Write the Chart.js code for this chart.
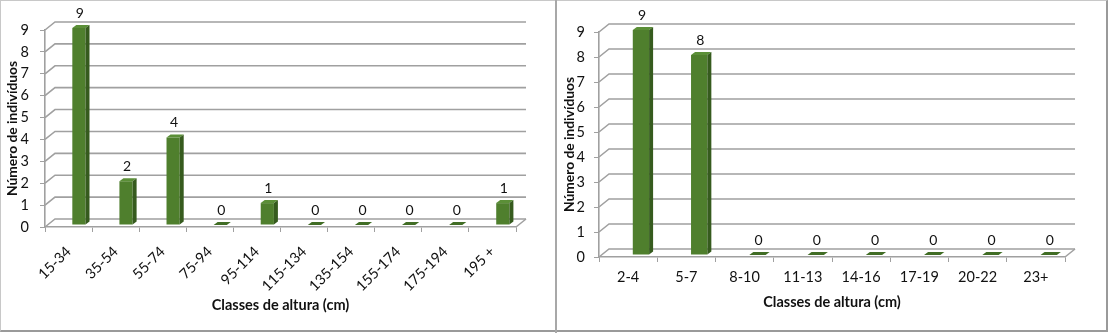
<!DOCTYPE html>
<html>
<head>
<meta charset="utf-8">
<script src="https://cdn.jsdelivr.net/npm/chart.js@4/dist/chart.umd.min.js"></script>
<style>
  body { margin: 0; background: #fff; }
  #wrap { position: relative; width: 1108px; height: 333px; overflow: hidden; }
  canvas { position: absolute; top: 0; }
  #left-chart { left: 0; }
  #right-chart { left: 556px; }
  .frame { position: absolute; left: 0; top: 0; width: 1105px; height: 329px;
           border-left: 1px solid #c8c8c8; border-top: 1px solid #c8c8c8;
           border-right: 2px solid #9a9a9a; border-bottom: 2px solid #9a9a9a; }
  .sep { position: absolute; left: 555px; top: 0; width: 2px; height: 333px; background: #a8a8a8; }
</style>
</head>
<body>
<div id="wrap">
  <canvas id="left-chart" width="556" height="333"></canvas>
  <canvas id="right-chart" width="552" height="333"></canvas>
  <div class="frame"></div>
  <div class="sep"></div>
</div>
<script>
// data
const leftClasses = ['15-34', '35-54', '55-74', '75-94', '95-114', '115-134', '135-154', '155-174', '175-194', '195 +'];
const leftCounts = [9, 2, 4, 0, 1, 0, 0, 0, 0, 1];
const rightClasses = ['2-4', '5-7', '8-10', '11-13', '14-16', '17-19', '20-22', '23+'];
const rightCounts = [9, 8, 0, 0, 0, 0, 0, 0];
const yMax = 9;

const xTitle = 'Classes de altura (cm)';
const yTitle = 'Número de indivíduos';

Chart.defaults.font.family = 'Lato, "Open Sans", sans-serif';
Chart.defaults.color = '#111';

const wallColor = '#a0a0a0';
const frontGreen = '#4f7f2d';
const topGreen = '#5b8f37';
const sideGreen = '#365b1e';

// back wall offset and bar depth
const wall = { dx: 10, dy: 8 };
const depth = { dx: 4, dy: 3 };

function barShift(chart) {
    const x = chart.scales.x;
    const cat = (x.right - x.left) / chart.data.labels.length;
    return { sx: cat * 0.22, sy: -2 };
}

const fake3d = {
    id: 'fake3d',
    beforeDatasetsDraw(chart) {
        const { ctx, chartArea: a, scales: { y } } = chart;
        ctx.save();
        ctx.strokeStyle = wallColor;
        ctx.lineWidth = 1.6;
        y.ticks.forEach(t => {
            const py = y.getPixelForValue(t.value);
            ctx.beginPath();
            ctx.moveTo(a.left, py);
            ctx.lineTo(a.left + wall.dx, py - wall.dy);
            ctx.lineTo(a.right + wall.dx, py - wall.dy);
            ctx.stroke();
        });
        ctx.beginPath();
        ctx.moveTo(a.right, a.bottom);
        ctx.lineTo(a.right + wall.dx, a.bottom - wall.dy);
        ctx.stroke();
        ctx.restore();

        const s = barShift(chart);
        ctx.save();
        ctx.translate(s.sx, s.sy);
    },
    afterDatasetsDraw(chart) {
        const { ctx } = chart;
        ctx.restore();
        const s = barShift(chart);
        const values = chart.data.datasets[0].data;
        chart.getDatasetMeta(0).data.forEach((bar, i) => {
            const x0 = bar.x - bar.width / 2 + s.sx;
            const x1 = bar.x + bar.width / 2 + s.sx;
            const yt = bar.y + s.sy;
            const yb = bar.base + s.sy;
            ctx.save();
            // top face
            ctx.fillStyle = values[i] === 0 ? '#416d25' : topGreen;
            ctx.beginPath();
            ctx.moveTo(x0, yt);
            ctx.lineTo(x1, yt);
            ctx.lineTo(x1 + depth.dx, yt - depth.dy);
            ctx.lineTo(x0 + depth.dx, yt - depth.dy);
            ctx.closePath();
            ctx.fill();
            // side face
            if (yb - yt > 0.5) {
                ctx.fillStyle = sideGreen;
                ctx.beginPath();
                ctx.moveTo(x1, yt);
                ctx.lineTo(x1 + depth.dx, yt - depth.dy);
                ctx.lineTo(x1 + depth.dx, yb - depth.dy);
                ctx.lineTo(x1, yb);
                ctx.closePath();
                ctx.fill();
            }
            // value label
            ctx.fillStyle = '#111';
            ctx.font = '14px Lato, sans-serif';
            ctx.textAlign = 'center';
            ctx.textBaseline = 'middle';
            ctx.fillText(String(values[i]), (x0 + x1) / 2 + 1, yt - depth.dy - 12);
            ctx.restore();
        });
    }
};

function makeChart(canvas, labels, counts, opts) {
    return new Chart(canvas.getContext('2d'), {
        type: 'bar',
        data: {
            labels: labels,
            datasets: [{
                data: counts,
                backgroundColor: frontGreen,
                borderWidth: 0,
                barPercentage: 0.28,
                categoryPercentage: 1,
                clip: false
            }]
        },
        options: {
            responsive: false,
            animation: false,
            events: [],
            layout: { padding: { top: opts.top, right: opts.right, left: 0, bottom: 0 } },
            plugins: { legend: { display: false }, tooltip: { enabled: false } },
            scales: {
                x: {
                    grid: { drawOnChartArea: false, tickLength: 5, color: wallColor, offset: true },
                    border: { color: wallColor, width: 1.6 },
                    ticks: {
                        autoSkip: false,
                        minRotation: opts.rot,
                        maxRotation: opts.rot,
                        padding: opts.xPad,
                        font: { size: 14.5 },
                        color: '#111'
                    },
                    title: {
                        display: true,
                        text: xTitle,
                        font: { size: 14.5, weight: 'bold' },
                        color: '#111',
                        padding: { top: 0, bottom: opts.xTitlePad }
                    },
                    afterFit(scale) { scale.height = opts.xHeight; }
                },
                y: {
                    min: 0,
                    max: yMax,
                    grid: { drawOnChartArea: false, tickLength: 5, color: wallColor },
                    border: { color: wallColor, width: 1.6 },
                    ticks: { stepSize: 1, padding: opts.yPad, font: { size: 14.5 }, color: '#111' },
                    title: {
                        display: true,
                        text: yTitle,
                        font: { size: 13.8, weight: 'bold' },
                        color: '#111',
                        padding: { top: opts.yTitlePad, bottom: 0 }
                    },
                    afterFit(scale) { scale.width = opts.yWidth; }
                }
            }
        },
        plugins: [fake3d]
    });
}

makeChart(document.getElementById('left-chart'), leftClasses, leftCounts, {
    top: 30, right: 40, xHeight: 106, yWidth: 45, rot: 45,
    xPad: 11, xTitlePad: 19, yPad: 11, yTitlePad: 4
});

makeChart(document.getElementById('right-chart'), rightClasses, rightCounts, {
    top: 32, right: 43, xHeight: 76, yWidth: 43, rot: 0,
    xPad: 7, xTitlePad: 22, yPad: 9, yTitlePad: 5
});
</script>
</body>
</html>
